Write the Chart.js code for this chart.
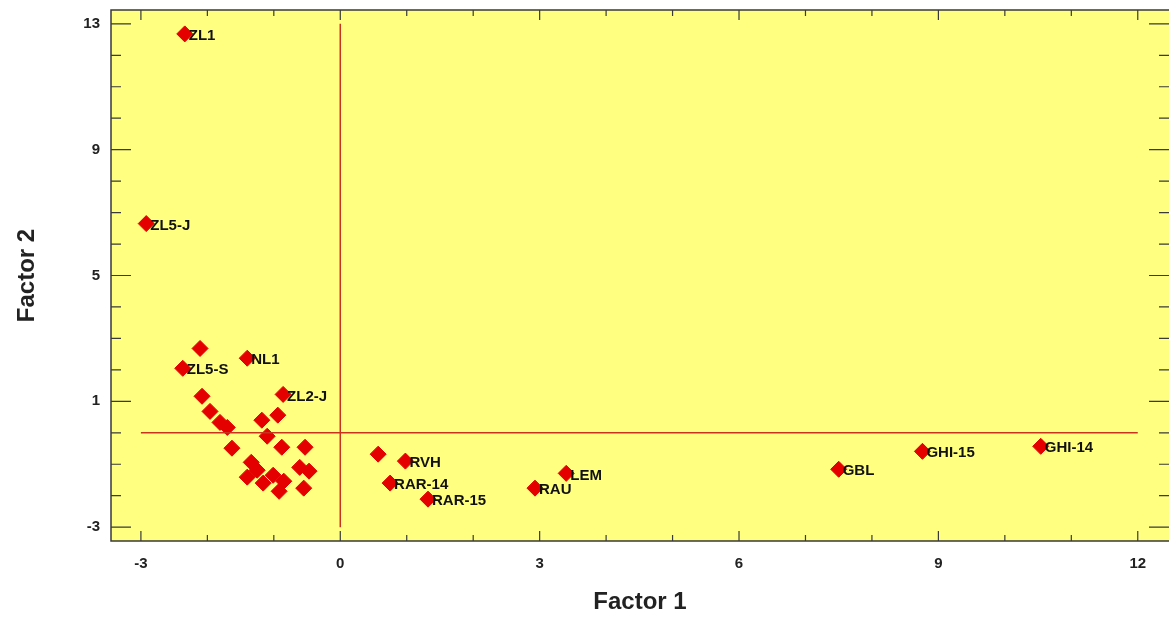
<!DOCTYPE html>
<html>
<head>
<meta charset="utf-8">
<script src="https://cdn.jsdelivr.net/npm/chart.js@4.4.0/dist/chart.umd.min.js"></script>
<style>
  body { margin: 0; background: #fff; }
  #wrap { width: 1169px; height: 617px; position: relative; }
</style>
</head>
<body>
<div id="wrap"><canvas id="myChart"></canvas></div>
<script>
// sample scores on the first two factors
var sampleNames = ['ZL1', 'ZL5-J', '', 'ZL5-S', 'NL1', 'ZL2-J',
    '', '', '', '', '', '',
    '', '', '', '', '', '', '', '', '', '', '', '', '', '',
    '', 'RVH', 'RAR-14', 'RAR-15', 'RAU', 'LEM', 'GBL', 'GHI-15', 'GHI-14'];
var factor1 = [-2.34, -2.92, -2.11, -2.37, -1.40, -0.86,
    -2.08, -1.96, -1.81, -1.70, -1.18, -0.94,
    -1.63, -1.10, -0.88, -0.53, -1.34, -1.40, -1.25, -1.01, -1.16, -0.92, -0.85, -0.61, -0.47, -0.55,
    0.57, 0.98, 0.75, 1.32, 2.93, 3.40, 7.50, 8.76, 10.54];
var factor2 = [12.68, 6.65, 2.68, 2.05, 2.37, 1.22,
    1.16, 0.68, 0.33, 0.17, 0.40, 0.56,
    -0.49, -0.11, -0.46, -0.46, -0.94, -1.41, -1.19, -1.35, -1.60, -1.86, -1.54, -1.10, -1.22, -1.76,
    -0.68, -0.90, -1.60, -2.11, -1.76, -1.29, -1.16, -0.59, -0.43];

var xTicks = [-3, 0, 3, 6, 9, 12];
var yTicks = [-3, 1, 5, 9, 13];

var ctx = document.getElementById('myChart').getContext('2d');

var points = [];
for (let i = 0; i < factor1.length; i++) {
    points.push({x: factor1[i], y: factor2[i]});
}

const lineColor = '#C8321E';
const frameColor = '#3a3a3a';

const plotBack = {
    id: 'plotBack',
    beforeDraw(chart) {
        const a = chart.chartArea;
        const c = chart.ctx;
        c.save();
        c.fillStyle = '#FFFF80';
        c.fillRect(a.left, a.top, a.right - a.left, a.bottom - a.top);
        c.restore();
    },
    afterDraw(chart) {
        // frame (right side runs off the picture) and inward tick marks
        const a = chart.chartArea;
        const c = chart.ctx;
        const xs = chart.scales.x, ys = chart.scales.y;
        c.save();
        c.strokeStyle = frameColor;
        c.lineWidth = 1.5;
        c.beginPath();
        c.moveTo(a.right, a.top); c.lineTo(a.left, a.top);
        c.lineTo(a.left, a.bottom); c.lineTo(a.right, a.bottom);
        c.stroke();
        c.lineWidth = 1.2;
        c.beginPath();
        for (let v = Math.ceil(xs.min); v <= xs.max; v++) {
            const px = xs.getPixelForValue(v);
            const len = (v % 3 === 0) ? 10 : 6;
            c.moveTo(px, a.bottom); c.lineTo(px, a.bottom - len);
            c.moveTo(px, a.top); c.lineTo(px, a.top + len);
        }
        for (let v = Math.ceil(ys.min); v <= ys.max; v++) {
            const py = ys.getPixelForValue(v);
            const len = ((v + 3) % 4 === 0) ? 20 : 10;
            c.moveTo(a.left, py); c.lineTo(a.left + len, py);
            c.moveTo(a.right, py); c.lineTo(a.right - len, py);
        }
        c.stroke();
        c.restore();
    }
};

const pointLabels = {
    id: 'pointLabels',
    afterDatasetsDraw(chart) {
        const meta = chart.getDatasetMeta(2);
        const c = chart.ctx;
        c.save();
        c.font = 'bold 15px "Liberation Sans", Arial, sans-serif';
        c.fillStyle = '#111';
        c.textBaseline = 'middle';
        c.textAlign = 'left';
        meta.data.forEach(function (pt, i) {
            if (sampleNames[i]) c.fillText(sampleNames[i], pt.x + 4, pt.y + 2);
        });
        c.restore();
    }
};

const tickFont = {family: '"Liberation Sans", Arial, sans-serif', size: 15, weight: 'bold'};
const titleFont = {family: '"Liberation Sans", Arial, sans-serif', size: 24, weight: 'bold'};

function noPad(s) {
    s.paddingTop = 0; s.paddingBottom = 0; s.paddingLeft = 0; s.paddingRight = 0;
}

var myChart = new Chart(ctx, {
    type: 'scatter',
    data: {
        datasets: [{
            type: 'line',
            data: [{x: xTicks[0], y: 0}, {x: xTicks[xTicks.length - 1], y: 0}],
            borderColor: lineColor,
            borderWidth: 1.5,
            pointRadius: 0,
            showLine: true
        }, {
            type: 'line',
            data: [{x: 0, y: yTicks[0]}, {x: 0, y: yTicks[yTicks.length - 1]}],
            borderColor: lineColor,
            borderWidth: 1.5,
            pointRadius: 0,
            showLine: true
        }, {
            label: 'Samples',
            data: points,
            pointStyle: 'rectRot',
            pointRadius: 8,
            pointHoverRadius: 8,
            backgroundColor: '#E50000',
            borderColor: '#E50000',
            borderWidth: 1
        }]
    },
    options: {
        responsive: true,
        maintainAspectRatio: false,
        animation: false,
        layout: {autoPadding: false, padding: {top: 10, right: 0, left: 0, bottom: 0}},
        plugins: {legend: {display: false}, tooltip: {enabled: false}},
        scales: {
            x: {
                type: 'linear',
                min: -3.45,
                max: 12.47,
                grid: {display: false, drawTicks: false},
                border: {display: false},
                afterBuildTicks: (s) => { s.ticks = xTicks.map(v => ({value: v})); },
                afterFit: (s) => { s.height = 76; noPad(s); },
                ticks: {font: tickFont, color: '#222', padding: 14, maxRotation: 0,
                    callback: (v) => String(v)},
                title: {display: true, text: 'Factor 1', font: titleFont, color: '#222',
                    padding: {top: 0, bottom: 0}}
            },
            y: {
                type: 'linear',
                min: -3.44,
                max: 13.44,
                grid: {display: false, drawTicks: false},
                border: {display: false},
                afterBuildTicks: (s) => { s.ticks = yTicks.map(v => ({value: v})); },
                afterFit: (s) => { s.width = 111; noPad(s); },
                ticks: {font: tickFont, color: '#222', padding: 11,
                    callback: (v) => String(v)},
                title: {display: true, text: 'Factor 2', font: titleFont, color: '#222',
                    padding: {top: 13, bottom: 0}}
            }
        }
    },
    plugins: [plotBack, pointLabels]
});
</script>
</body>
</html>
